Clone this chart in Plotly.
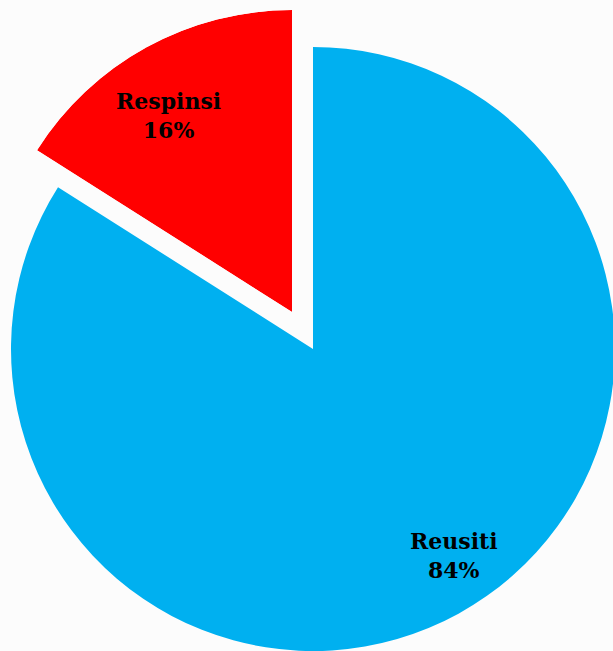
import math
import plotly.graph_objects as go

labels = ["Reusiti", "Respinsi"]
values = [84, 16]
colors = ["#00B0F0", "#FF0000"]

W, H = 616, 651
# geometry (pixels)
R = 302
blue_c = (313, 349)
red_c = (292, 312)

total = sum(values)
share_red = values[1] / total
span = share_red * 360

fig = go.Figure()

# main (blue) slice via pie, red slice transparent there
fig.add_trace(go.Pie(
    labels=labels, values=values, sort=False, direction="clockwise", rotation=0,
    marker=dict(colors=[colors[0], "rgba(0,0,0,0)"], line=dict(width=0)),
    textinfo="none", hoverinfo="label+percent", showlegend=False,
    domain=dict(x=[(blue_c[0] - R) / W, (blue_c[0] + R) / W],
                y=[(H - blue_c[1] - R) / H, (H - blue_c[1] + R) / H]),
))

# exploded (red) slice via barpolar on a sector
fig.add_trace(go.Barpolar(
    r=[1], theta=[90 + span / 2], width=[span],
    marker=dict(color=colors[1], line=dict(width=0)),
    name=labels[1], showlegend=False, subplot="polar",
))

left = red_c[0] - R * math.sin(math.radians(span))
fig.update_layout(
    width=W, height=H, margin=dict(l=0, r=0, t=0, b=0),
    paper_bgcolor="#fcfcfc", plot_bgcolor="#fcfcfc",
    polar=dict(
        domain=dict(x=[left / W, red_c[0] / W],
                    y=[(H - red_c[1]) / H, (H - red_c[1] + R) / H]),
        sector=[90, 90 + span], hole=0, bargap=0,
        bgcolor="rgba(0,0,0,0)",
        radialaxis=dict(visible=False, range=[0, 1]),
        angularaxis=dict(visible=False),
    ),
)

pcts = [round(v / total * 100) for v in values]
font = dict(family="DejaVu Serif", size=22, color="black")
fig.add_annotation(x=454 / W, y=1 - 555 / H, xref="paper", yref="paper",
                   xanchor="center", yanchor="middle",
                   text=f"<b>{labels[0]}<br>{pcts[0]}%</b>", showarrow=False,
                   font=font, align="center")
fig.add_annotation(x=168 / W, y=1 - 116 / H, xref="paper", yref="paper",
                   xanchor="center", yanchor="middle",
                   text=f"<b>{labels[1]}<br>{pcts[1]}%</b>", showarrow=False,
                   font=font, align="center")

fig.write_html(
    "out.html",
    config={"displayModeBar": False},
    post_script="document.body.style.margin='0';document.body.style.overflow='hidden';document.body.style.background='#fcfcfc';",
)
